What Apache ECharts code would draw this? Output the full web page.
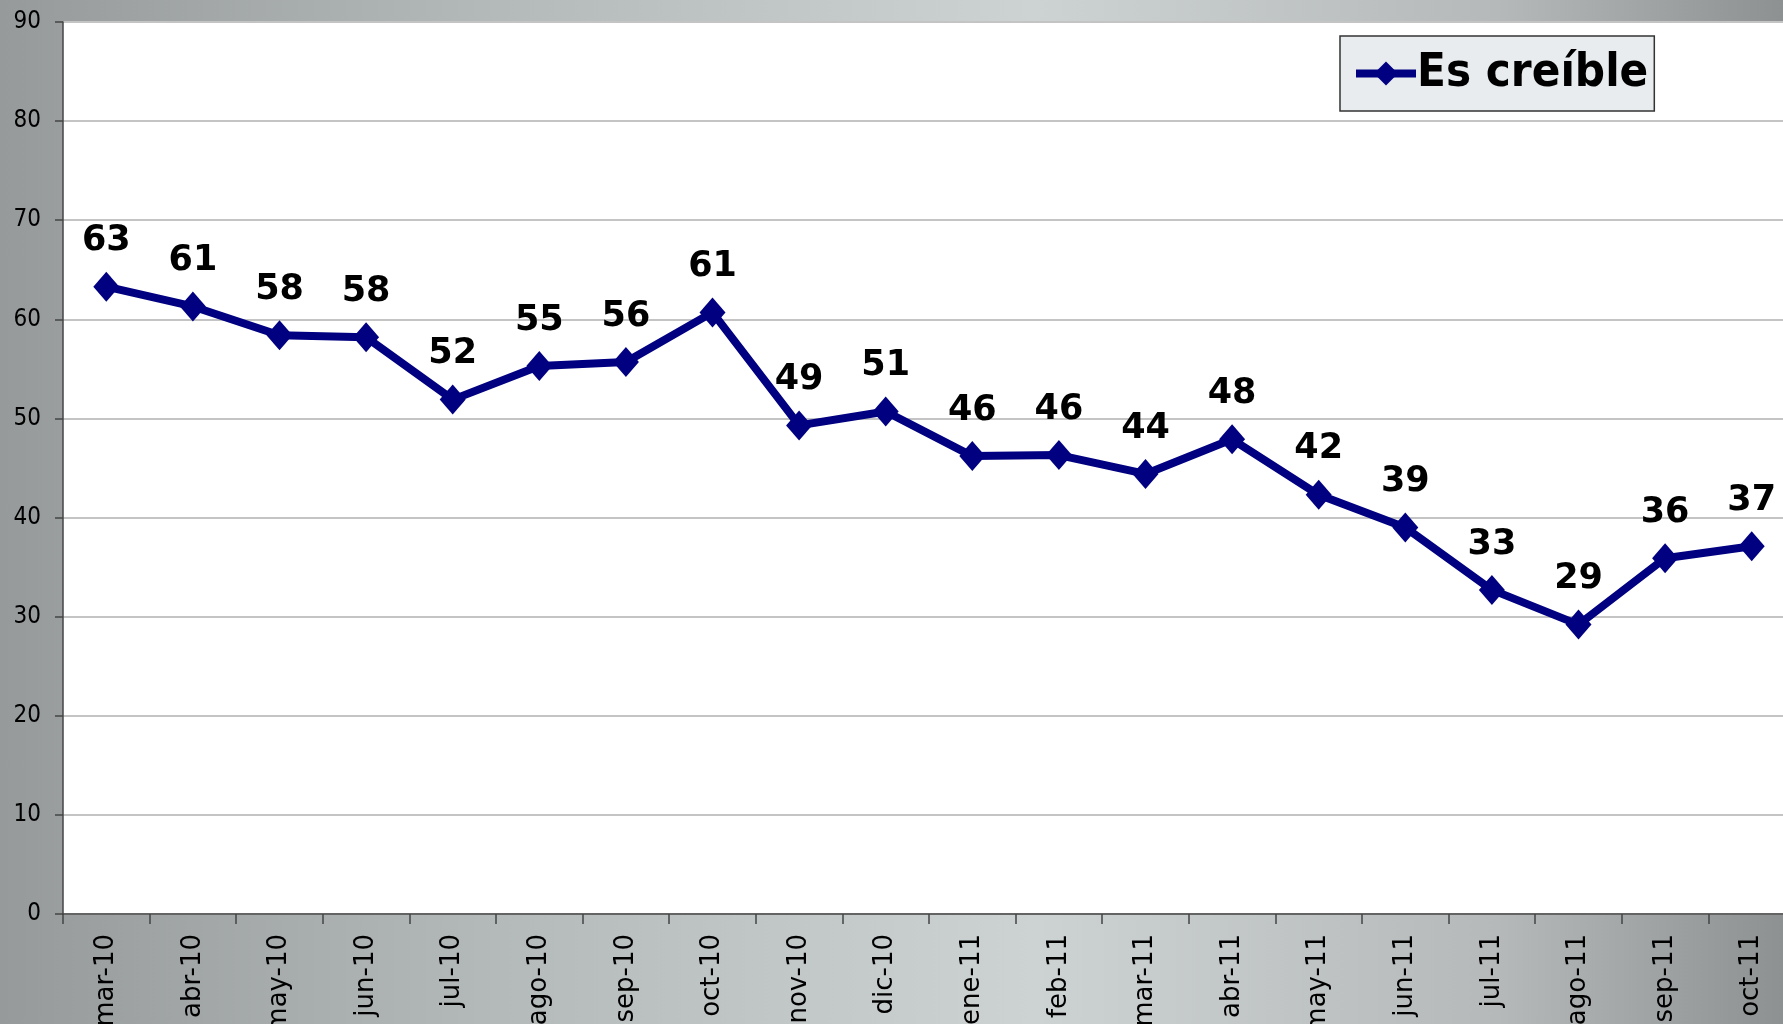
<!DOCTYPE html>
<html>
<head>
<meta charset="utf-8">
<script src="https://cdn.jsdelivr.net/npm/echarts@6/dist/echarts.min.js"></script>
<style>
  html, body { margin: 0; padding: 0; }
  #chart {
    width: 1783px; height: 1024px;
    background: linear-gradient(90deg, #969a9b 0%, #b4b9ba 28%, #cdd2d2 58%, #b5b9ba 84%, #8e9192 100%);
  }
</style>
</head>
<body>
<div id="chart"></div>
<script>
// meses
const months = ['mar-10','abr-10','may-10','jun-10','jul-10','ago-10','sep-10','oct-10','nov-10','dic-10',
  'ene-11','feb-11','mar-11','abr-11','may-11','jun-11','jul-11','ago-11','sep-11','oct-11'];
// Es creíble (%)
const creible = [63.3, 61.3, 58.4, 58.2, 51.9, 55.3, 55.7, 60.7, 49.3, 50.7,
  46.2, 46.3, 44.4, 47.9, 42.3, 39.0, 32.7, 29.2, 35.9, 37.1];

const COND = '"DejaVu Sans Condensed", "DejaVu Sans", sans-serif';
const SANS = '"DejaVu Sans", sans-serif';

const chart = echarts.init(document.getElementById('chart'));
chart.setOption({
  animation: false,
  grid: {
    left: 63, top: 22, width: 1732, bottom: 110,
    outerBoundsMode: 'none',
    containLabel: false,
    show: true, backgroundColor: '#ffffff', borderWidth: 0
  },
  legend: {
    left: 1340, top: 36,
    data: ['Es creíble'],
    backgroundColor: '#e8ecee',
    borderColor: '#333',
    borderWidth: 1.5,
    borderRadius: 0,
    padding: [14, 6, 14, 12],
    itemWidth: 60,
    itemHeight: 30,
    lineStyle: { width: 8 },
    textStyle: { fontFamily: COND, fontWeight: 'bold', fontSize: 47, color: '#000', padding: [0, 0, 0, -4] }
  },
  xAxis: {
    type: 'category',
    data: months,
    boundaryGap: true,
    axisLine: { lineStyle: { color: '#444', width: 1.5 } },
    axisTick: { show: true, length: 10, lineStyle: { color: '#444', width: 1.5 } },
    axisLabel: { rotate: 90, margin: 20, fontFamily: SANS, fontSize: 26, color: '#000', interval: 0 }
  },
  yAxis: {
    type: 'value',
    min: 0, max: 90, interval: 10,
    axisLine: { show: true, lineStyle: { color: '#444', width: 1.5 } },
    axisTick: { show: true, length: 8, lineStyle: { color: '#444', width: 1.5 } },
    axisLabel: { margin: 22, fontFamily: COND, fontSize: 24, color: '#000' },
    splitLine: { lineStyle: { color: '#c4c4c4', width: 2 } }
  },
  series: [{
    name: 'Es creíble',
    type: 'line',
    data: creible,
    color: '#000080',
    symbol: 'diamond',
    symbolSize: [26, 30],
    lineStyle: { width: 8, color: '#000080' },
    itemStyle: { color: '#000080' },
    label: {
      show: true, position: 'top', distance: 13,
      fontFamily: SANS, fontWeight: 'bold', fontSize: 35, color: '#000',
      formatter: p => Math.round(p.value)
    }
  }]
});
</script>
</body>
</html>
